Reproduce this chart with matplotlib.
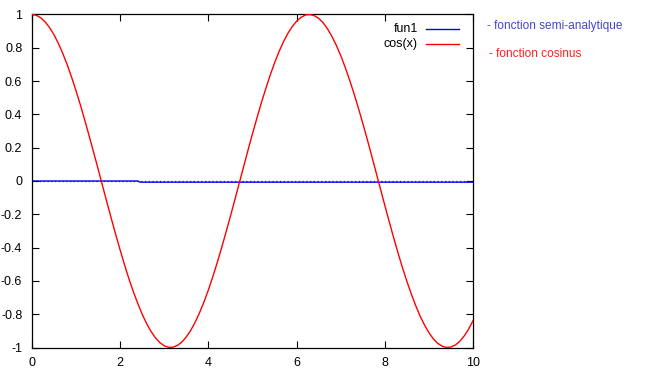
import matplotlib
matplotlib.use("Agg")
import matplotlib.pyplot as plt

# data
x_vals = [round(i * 0.1, 1) for i in range(101)]
cos_vals = [
    1.000, 0.995, 0.980, 0.955, 0.921, 0.878, 0.825, 0.765, 0.697, 0.622,
    0.540, 0.454, 0.362, 0.267, 0.170, 0.071, -0.029, -0.129, -0.227, -0.323,
    -0.416, -0.505, -0.589, -0.666, -0.737, -0.801, -0.857, -0.904, -0.942, -0.971,
    -0.990, -0.999, -0.998, -0.987, -0.967, -0.936, -0.897, -0.848, -0.791, -0.726,
    -0.654, -0.575, -0.490, -0.401, -0.307, -0.211, -0.112, -0.012, 0.087, 0.187,
    0.284, 0.378, 0.469, 0.554, 0.635, 0.709, 0.776, 0.835, 0.886, 0.927,
    0.960, 0.983, 0.997, 1.000, 0.993, 0.977, 0.951, 0.914, 0.869, 0.815,
    0.754, 0.684, 0.608, 0.526, 0.439, 0.347, 0.252, 0.154, 0.054, -0.046,
    -0.146, -0.244, -0.340, -0.432, -0.520, -0.602, -0.678, -0.748, -0.811, -0.865,
    -0.911, -0.948, -0.975, -0.992, -1.000, -0.997, -0.985, -0.963, -0.931, -0.890,
    -0.839,
]
fun1_x = [0, 2.4, 2.45, 10]
fun1_y = [0, 0, -0.007, -0.007]

x_ticks = [0, 2, 4, 6, 8, 10]
y_ticks = [-1, -0.8, -0.6, -0.4, -0.2, 0, 0.2, 0.4, 0.6, 0.8, 1]
y_labels = ["-1", "-0.8", "-0.6", "-0.4", "-0.2", "0", "0.2", "0.4", "0.6", "0.8", "1"]

plt.rcParams["font.family"] = ["Liberation Sans", "DejaVu Sans"]

fig = plt.figure(figsize=(6.57, 3.73), dpi=100)
ax = fig.add_axes([32 / 657, 1 - 347.5 / 373, 441 / 657, 333 / 373])

# zero axis (dotted) under the curves
ax.axhline(0.001, color="#333333", linestyle=(0, (1, 2)), linewidth=0.9, zorder=1)
line1, = ax.plot(fun1_x, fun1_y, color="#0000ff", linewidth=1.0, zorder=2)
line2, = ax.plot(x_vals, cos_vals, color="#ff0000", linewidth=1.0, zorder=3)

ax.set_xlim(0, 10)
ax.set_ylim(-1, 1)
ax.set_xticks(x_ticks)
ax.set_yticks(y_ticks)
ax.set_yticklabels(y_labels)
ax.tick_params(direction="in", length=5, width=0.8, top=True, right=True,
               labelsize=9, colors="black")
ax.tick_params(axis="y", pad=7)
ax.tick_params(axis="x", pad=7)
for s in ax.spines.values():
    s.set_linewidth(0.9)

# gnuplot style key: text right aligned, sample line to the right
for yy, lab, col in [(29, "fun1", "#0000ff"), (44, "cos(x)", "#ff0000")]:
    yf = 1 - yy / 373
    fig.text(418 / 657, yf, lab, ha="right", va="center", fontsize=9)
    fig.add_artist(plt.Line2D([426 / 657, 459 / 657], [yf, yf], color=col,
                              linewidth=1.0, transform=fig.transFigure))

fig.text(487 / 657, 1 - 26 / 373, "- fonction semi-analytique", color="#4646d2",
         ha="left", va="center", fontsize=8.6)
fig.text(489 / 657, 1 - 54 / 373, "- fonction cosinus", color="#ff2020",
         ha="left", va="center", fontsize=8.6)

fig.savefig("out.png", dpi=100)
